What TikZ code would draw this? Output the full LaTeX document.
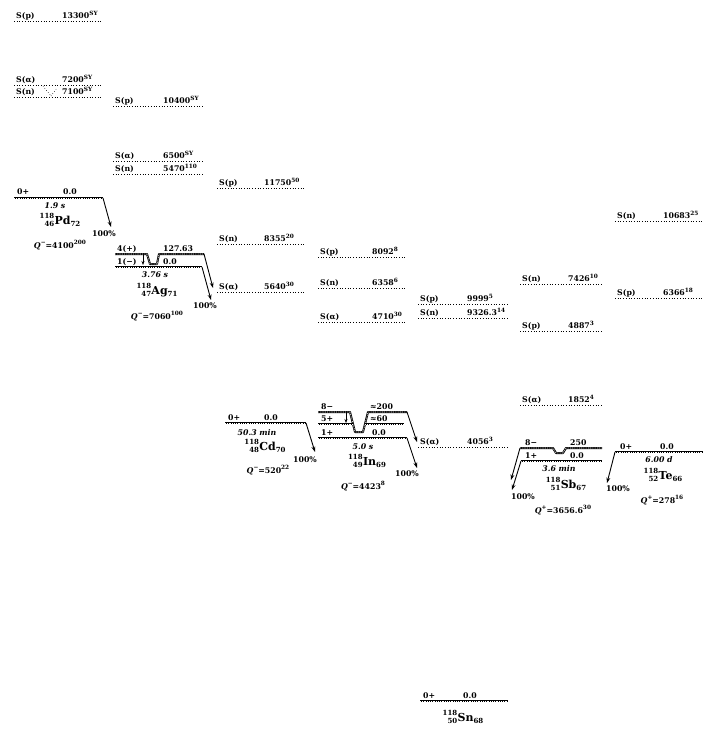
\documentclass[tikz,border=0pt]{standalone}
\usepackage{fontspec}
\setmainfont{DejaVu Serif}
\usetikzlibrary{arrows.meta}
\newcommand{\nuc}[4]{\raisebox{-2.5pt}{\fontsize{7}{7}\selectfont\begin{tabular}[b]{@{}r@{}}#1\\[0.5pt]#2\end{tabular}}\kern0.3pt{\fontsize{11}{11}\selectfont #3}\raisebox{-2.5pt}{\fontsize{7}{7}\selectfont #4}}
\newcommand{\sepE}[7]{% name, x0, x1, y, label, valuex, value
  \coordinate (#1a) at (#2,#4);
  \coordinate (#1b) at (#3,#4);
  \draw[sepline] (#1a) -- (#1b);
  \node[txt] (#1l) at (#2+2,#4-2.5) {#5};
  \node[txt] (#1v) at (#6,#4-2.5) {#7};
}
\newcommand{\sy}[1]{\raisebox{3.3pt}{\fontsize{5.8}{6}\selectfont #1}}
\begin{document}
\begin{tikzpicture}[x=1pt,y=-1pt,
  txt/.style={anchor=base west, inner sep=0pt, font=\fontsize{7.8}{8}\selectfont\bfseries},
  ctxt/.style={anchor=base, inner sep=0pt, font=\fontsize{7.8}{8}\selectfont\bfseries},
  hl/.style={anchor=base, inner sep=0pt, font=\fontsize{7.8}{8}\selectfont\bfseries\itshape},
  nucl/.style={anchor=base, inner sep=0pt, font=\bfseries},
  sepline/.style={line width=0.6pt, dash pattern=on 0.6pt off 2.1pt},
  gslev/.style={line width=2.6pt, line join=round, postaction={draw=white, line width=0.8pt, dash pattern=on 0.9pt off 0.9pt}},
  isolev/.style={line width=2pt, line join=round, postaction={draw=white, line width=0.6pt, dash pattern=on 0.9pt off 0.9pt}},
  decay/.style={line width=0.9pt, -{Stealth[length=5.5pt,width=3.8pt]}},
  itarrow/.style={line width=0.7pt, -{Stealth[length=4pt,width=3pt]}}]
\fill[white] (0,0) rectangle (720,743);
\useasboundingbox (0,0) rectangle (720,743);

% ---------- separation energies ----------
\sepE{pa}{14}{102}{21}{S(p)}{62}{13300\sy{SY}}
\sepE{pb}{14}{102}{85}{S(α)}{62}{7200\sy{SY}}
\sepE{pc}{14}{102}{97}{S(n)}{62}{7100\sy{SY}}
\draw[sepline] (43,86) -- (51,96);
\draw[sepline] (51,96) -- (57,88);

\sepE{aa}{113}{203}{106}{S(p)}{163}{10400\sy{SY}}
\sepE{ab}{113}{203}{161}{S(α)}{163}{6500\sy{SY}}
\sepE{ac}{113}{203}{174}{S(n)}{163}{5470\sy{110}}

\sepE{ca}{217}{306}{188}{S(p)}{264}{11750\sy{50}}
\sepE{cb}{217}{306}{244}{S(n)}{264}{8355\sy{20}}
\sepE{cc}{217}{306}{292}{S(α)}{264}{5640\sy{30}}

\sepE{ia}{318}{407}{257}{S(p)}{372}{8092\sy{8}}
\sepE{ib}{318}{407}{288}{S(n)}{372}{6358\sy{6}}
\sepE{ic}{318}{407}{322}{S(α)}{372}{4710\sy{30}}

\sepE{na}{418}{508}{304}{S(p)}{467}{9999\sy{5}}
\sepE{nb}{418}{508}{318}{S(n)}{467}{9326.3\sy{14}}
\sepE{nc}{418}{508}{447}{S(α)}{467}{4056\sy{3}}

\sepE{sa}{520}{603}{284}{S(n)}{568}{7426\sy{10}}
\sepE{sb}{520}{603}{331}{S(p)}{568}{4887\sy{3}}
\sepE{sc}{520}{603}{405}{S(α)}{568}{1852\sy{4}}

\sepE{ta}{615}{703}{221}{S(n)}{663}{10683\sy{25}}
\sepE{tb}{615}{703}{298}{S(p)}{663}{6366\sy{18}}

% ---------- 118Pd ----------
\coordinate (pdL) at (14,198); \coordinate (pdR) at (103,198);
\coordinate (pdE) at (111,227);
\draw[gslev] (pdL) -- (pdR);
\node[txt] (pdj) at (17,195) {0+};
\node[txt] (pde) at (63,195) {0.0};
\node[hl] (pdt) at (55,209) {1.9 s};
\node[nucl] (pdn) at (60,224) {\nuc{118}{46}{Pd}{72}};
\draw[decay] (pdR) -- (pdE);
\node[ctxt] (pdp) at (104,236) {100\%};
\node[ctxt] (pdq) at (60,248) {\textit{Q}\sy{−}=4100\sy{200}};

% ---------- 118Ag ----------
\coordinate (agmL) at (115,254); \coordinate (agmR) at (204,254);
\coordinate (aggL) at (115,267); \coordinate (aggR) at (202,267);
\draw[isolev] (agmL) -- (147,254) -- (150,264) -- (157,264) -- (159,254) -- (agmR);
\draw[gslev] (aggL) -- (aggR);
\coordinate (agit1) at (143,254); \coordinate (agit2) at (143,265);
\draw[itarrow] (agit1) -- (agit2);
\node[txt] (agmj) at (117,251) {4(+)};
\node[txt] (agme) at (163,251) {127.63};
\node[txt] (aggj) at (117,264) {1(−)};
\node[txt] (agge) at (163,264) {0.0};
\node[hl] (agt) at (155,277) {3.76 s};
\node[nucl] (agn) at (157,294) {\nuc{118}{47}{Ag}{71}};
\coordinate (agE1) at (213,288); \coordinate (agE2) at (211,300);
\draw[decay] (agmR) -- (agE1);
\draw[decay] (aggR) -- (agE2);
\node[ctxt] (agp) at (205,308) {100\%};
\node[ctxt] (agq) at (157,319) {\textit{Q}\sy{−}=7060\sy{100}};

% ---------- 118Cd ----------
\coordinate (cdL) at (225,423); \coordinate (cdR) at (306,423);
\draw[gslev] (cdL) -- (cdR);
\node[txt] (cdj) at (228,420) {0+};
\node[txt] (cde) at (264,420) {0.0};
\node[hl] (cdt) at (257,435) {50.3 min};
\node[nucl] (cdn) at (265,450) {\nuc{118}{48}{Cd}{70}};
\coordinate (cdE) at (315,452);
\draw[decay] (cdR) -- (cdE);
\node[ctxt] (cdp) at (305,462) {100\%};
\node[ctxt] (cdq) at (268,473) {\textit{Q}\sy{−}=520\sy{22}};

% ---------- 118In ----------
\coordinate (in8L) at (318,412); \coordinate (in8R) at (407,412);
\coordinate (in5L) at (318,424); \coordinate (in5R) at (404,424);
\coordinate (ingL) at (318,438); \coordinate (ingR) at (407,438);
\draw[isolev] (in8L) -- (350,412) -- (355,432) -- (363,432) -- (368,412) -- (in8R);
\draw[isolev] (in5L) -- (353,424);
\draw[isolev] (365,424) -- (in5R);
\draw[gslev] (ingL) -- (ingR);
\coordinate (init1) at (346,412); \coordinate (init2) at (346,423);
\draw[itarrow] (init1) -- (init2);
\node[txt] (in8j) at (321,409) {8−};
\node[txt] (in8e) at (370,409) {≈200};
\node[txt] (in5j) at (321,421) {5+};
\node[txt] (in5e) at (370,421) {≈60};
\node[txt] (ingj) at (321,435) {1+};
\node[txt] (inge) at (372,435) {0.0};
\node[hl] (int) at (363,449) {5.0 s};
\node[nucl] (inn) at (367,465) {\nuc{118}{49}{In}{69}};
\coordinate (inE1) at (417,442); \coordinate (inE2) at (417,468);
\draw[decay] (in8R) -- (inE1);
\draw[decay] (ingR) -- (inE2);
\node[ctxt] (inp) at (407,476) {100\%};
\node[ctxt] (inq) at (363,489) {\textit{Q}\sy{−}=4423\sy{8}};

% ---------- 118Sb ----------
\coordinate (sb8L) at (520,448); \coordinate (sb8R) at (602,448);
\coordinate (sbgL) at (521,461); \coordinate (sbgR) at (602,461);
\draw[isolev] (sb8L) -- (553,448) -- (556,453) -- (563,453) -- (566,448) -- (sb8R);
\draw[gslev] (sbgL) -- (sbgR);
\node[txt] (sb8j) at (525,445) {8−};
\node[txt] (sb8e) at (570,445) {250};
\node[txt] (sbgj) at (525,458) {1+};
\node[txt] (sbge) at (570,458) {0.0};
\node[hl] (sbt) at (559,471) {3.6 min};
\node[nucl] (sbn) at (566,488) {\nuc{118}{51}{Sb}{67}};
\coordinate (sbE1) at (511,480); \coordinate (sbE2) at (512,490);
\draw[decay] (sb8L) -- (sbE1);
\draw[decay] (sbgL) -- (sbE2);
\node[ctxt] (sbp) at (523,499) {100\%};
\node[ctxt] (sbq) at (563,513) {\textit{Q}\sy{+}=3656.6\sy{30}};

% ---------- 118Te ----------
\coordinate (teL) at (615,452); \coordinate (teR) at (703,452);
\draw[gslev] (teL) -- (teR);
\node[txt] (tej) at (620,449) {0+};
\node[txt] (tee) at (660,449) {0.0};
\node[hl] (tet) at (659,462) {6.00 d};
\node[nucl] (ten) at (663,479) {\nuc{118}{52}{Te}{66}};
\coordinate (teE) at (607,483);
\draw[decay] (teL) -- (teE);
\node[ctxt] (tep) at (618,491) {100\%};
\node[ctxt] (teq) at (662,503) {\textit{Q}\sy{+}=278\sy{16}};

% ---------- 118Sn ----------
\coordinate (snL) at (420,701); \coordinate (snR) at (508,701);
\draw[gslev] (snL) -- (snR);
\node[txt] (snj) at (423,698) {0+};
\node[txt] (sne) at (463,698) {0.0};
\node[nucl] (snn) at (463,721) {\nuc{118}{50}{Sn}{68}};
\end{tikzpicture}
\end{document}
